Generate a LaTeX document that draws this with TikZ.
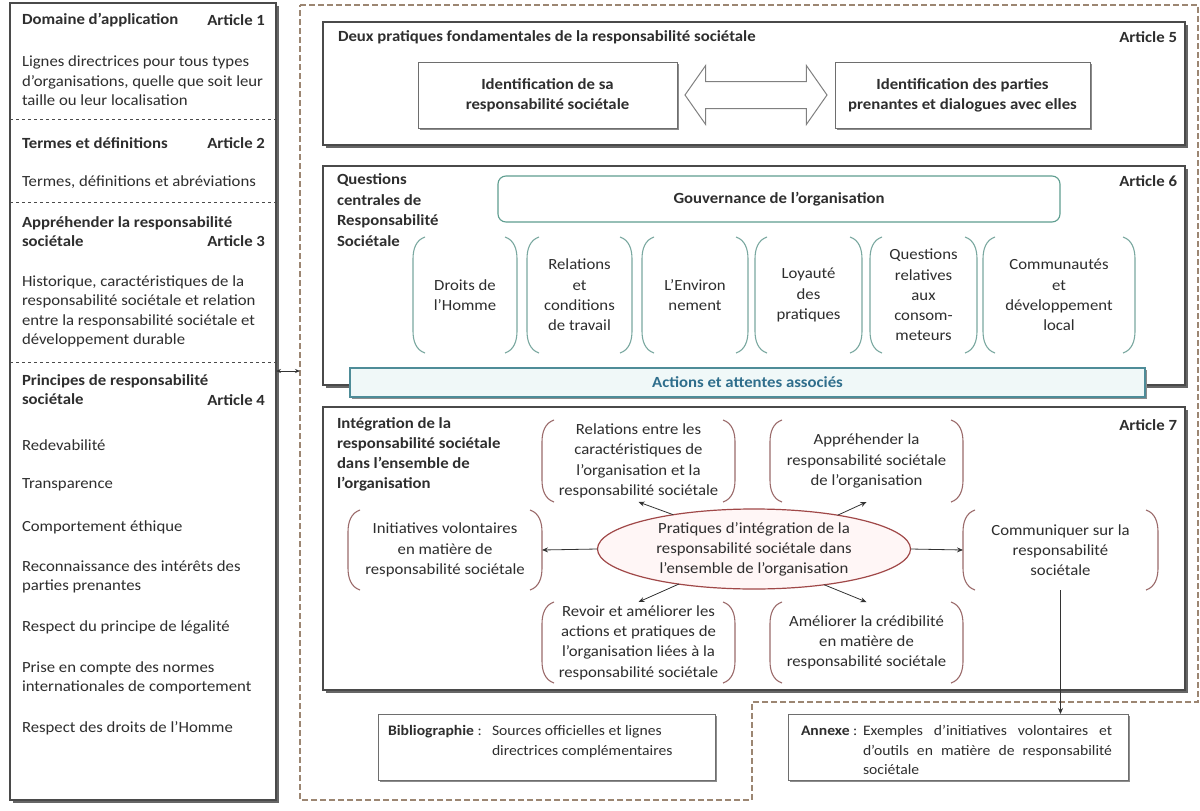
\documentclass[tikz,border=0pt]{standalone}
\usepackage{fontspec}
\setmainfont{Carlito}[FakeStretch=1.08]
\usetikzlibrary{shapes.geometric,shapes.arrows,shadows,calc,arrows.meta}
\definecolor{boxline}{HTML}{4A4A4A}
\definecolor{dashbrown}{HTML}{9C8672}
\definecolor{tealbr}{HTML}{7AA8A0}
\definecolor{tealgov}{HTML}{5F9E90}
\definecolor{tealbar}{HTML}{4E8C98}
\definecolor{tealtext}{HTML}{2F6E8C}
\definecolor{tealfill}{HTML}{F0F8F8}
\definecolor{redbr}{HTML}{9B6B6B}
\definecolor{ellline}{HTML}{A04848}
\definecolor{ellfill}{HTML}{FFF6F6}
\definecolor{txt}{HTML}{2E2E2E}
\newcommand\myfs{\fontsize{15.5}{19.5}\selectfont}
\newcommand\grpfs{\fontsize{15.5}{20.3}\selectfont}
\newcommand\botfs{\fontsize{14.5}{19.8}\selectfont}
\newcommand\parenpair[2]{%
  \draw[#2,line width=1.1pt] ([xshift=12pt]#1.north west) .. controls ([xshift=3pt,yshift=-3pt]#1.north west) and ([yshift=-12pt]#1.north west) .. ([yshift=-22pt]#1.north west) -- ([yshift=22pt]#1.south west) .. controls ([yshift=12pt]#1.south west) and ([xshift=3pt,yshift=3pt]#1.south west) .. ([xshift=12pt]#1.south west);
  \draw[#2,line width=1.1pt] ([xshift=-12pt]#1.north east) .. controls ([xshift=-3pt,yshift=-3pt]#1.north east) and ([yshift=-12pt]#1.north east) .. ([yshift=-22pt]#1.north east) -- ([yshift=22pt]#1.south east) .. controls ([yshift=12pt]#1.south east) and ([xshift=-3pt,yshift=3pt]#1.south east) .. ([xshift=-12pt]#1.south east);
}
\begin{document}
\begin{tikzpicture}[x=1pt,y=-1pt,
  every node/.style={inner sep=0pt,outer sep=0pt,text=txt,font=\myfs},
  leftlab/.style={anchor=west,align=left},
  boldlab/.style={anchor=west,align=left,font=\myfs\bfseries},
  artlab/.style={anchor=east,font=\myfs\bfseries},
  artbox/.style={draw=boxline,line width=1.1pt,fill=white,anchor=north west,drop shadow={shadow xshift=2.5pt,shadow yshift=-2.5pt,fill=black!60,opacity=1}},
  smallbox/.style={draw=boxline!80,line width=0.9pt,fill=white,anchor=north west,drop shadow={shadow xshift=2pt,shadow yshift=-2pt,fill=black!45,opacity=1}},
  grp/.style={align=center,font=\grpfs},
  sepline/.style={dashed,boxline,line width=0.9pt},
  conn/.style={-{Stealth[length=6pt,width=5pt]},line width=0.8pt,black!80},
]
\useasboundingbox (0,0) rectangle (1200,811);
\fill[white] (0,0) rectangle (1200,811);

% ---------- left column ----------
\node[artbox,minimum width=266,minimum height=797] (left) at (10,3) {};
\node[boldlab] (t1) at (22,20) {Domaine d'application};
\node[artlab] (a1) at (265,20) {Article 1};
\node[leftlab] (b1) at (22,81) {Lignes directrices pour tous types\\d'organisations, quelle que soit leur\\taille ou leur localisation};
\draw[sepline] (10,119) -- (276,119);
\node[boldlab] (t2) at (22,143) {Termes et définitions};
\node[artlab] (a2) at (265,143) {Article 2};
\node[leftlab] (b2) at (22,182) {Termes, définitions et abréviations};
\draw[sepline] (10,202) -- (276,202);
\node[boldlab] (t3) at (22,231.5) {Appréhender la responsabilité\\sociétale};
\node[artlab] (a3) at (265,241) {Article 3};
\node[leftlab] (b3) at (22,311.5) {Historique, caractéristiques de la\\responsabilité sociétale et relation\\entre la responsabilité sociétale et\\développement durable};
\draw[sepline] (10,362) -- (276,362);
\node[boldlab] (t4) at (22,389.5) {Principes de responsabilité\\sociétale};
\node[artlab] (a4) at (265,400) {Article 4};
\node[leftlab] (p1) at (22,445) {Redevabilité};
\node[leftlab] (p2) at (22,485) {Transparence};
\node[leftlab] (p3) at (22,527) {Comportement éthique};
\node[leftlab] (p4) at (22,577) {Reconnaissance des intérêts des\\parties prenantes};
\node[leftlab] (p5) at (22,627) {Respect du principe de légalité};
\node[leftlab] (p6) at (22,678) {Prise en compte des normes\\internationales de comportement};
\node[leftlab] (p7) at (22,728) {Respect des droits de l'Homme};

% ---------- outer dashed region ----------
\draw[dashbrown,line width=1.6pt,dash pattern=on 6pt off 3pt] (300,5) -- (1198,5) -- (1198,702) -- (752,702) -- (752,800) -- (300,800) -- cycle;
\coordinate (oe) at (300,371);
\draw[{Stealth[length=5pt,width=4pt]}-{Stealth[length=5pt,width=4pt]},line width=0.8pt,black!80] (left.east |- oe) -- (oe);

% ---------- Article 5 ----------
\node[artbox,minimum width=862,minimum height=123] (a5box) at (323,22) {};
\node[boldlab] (a5t) at (338,37) {Deux pratiques fondamentales de la responsabilité sociétale};
\node[artlab] (a5a) at (1177,37) {Article 5};
\node[smallbox,minimum width=259,minimum height=66,align=center,font=\fontsize{15.5}{20}\selectfont\bfseries] (id1) at (418,62) {Identification de sa\\responsabilité sociétale};
\node[smallbox,minimum width=255,minimum height=66,align=center,font=\fontsize{15.5}{20}\selectfont\bfseries] (id2) at (835,62) {Identification des parties\\prenantes et dialogues avec elles};
\node[double arrow,draw=boxline!70,line width=1pt,fill=white,inner sep=13pt,minimum height=142pt,double arrow head extend=16pt,double arrow tip angle=110] (dbl) at ($(id1.east)!0.5!(id2.west)$) {};

% ---------- Article 6 ----------
\node[artbox,minimum width=862,minimum height=219] (a6box) at (323,166) {};
\node[boldlab,font=\fontsize{15.5}{20.5}\selectfont\bfseries] (a6t) at (337,210) {Questions\\centrales de\\Responsabilité\\Sociétale};
\node[artlab] (a6a) at (1177,181) {Article 6};
\node[draw=tealgov,line width=1.1pt,rounded corners=8pt,fill=white,minimum width=562,minimum height=46,anchor=north west,font=\myfs\bfseries] (gov) at (498,176) {Gouvernance de l'organisation};
\node[grp,minimum width=104,minimum height=116] (q1) at (465,295) {Droits de\\l'Homme};
\node[grp,minimum width=105,minimum height=116] (q2) at (579.5,295) {Relations\\et\\conditions\\de travail};
\node[grp,minimum width=106,minimum height=116] (q3) at (695,295) {L'Environ\\nement};
\node[grp,minimum width=107,minimum height=116] (q4) at (808.5,295) {Loyauté\\des\\pratiques};
\node[grp,minimum width=107,minimum height=116] (q5) at (923.5,295) {Questions\\relatives\\aux\\consom-\\meteurs};
\node[grp,minimum width=152,minimum height=116] (q6) at (1059,295) {Communautés\\et\\développement\\local};
\foreach \n in {q1,q2,q3,q4,q5,q6} {\parenpair{\n}{tealbr}}
\node[draw=tealbar,fill=tealfill,line width=1.2pt,minimum width=795,minimum height=29,anchor=north west,text=tealtext,font=\myfs\bfseries,drop shadow={shadow xshift=2pt,shadow yshift=-2pt,fill=black!45,opacity=1}] (act) at (350,368) {Actions et attentes associés};

% ---------- Article 7 ----------
\node[artbox,minimum width=862,minimum height=283] (a7box) at (323,407) {};
\node[boldlab,font=\fontsize{15.5}{20}\selectfont\bfseries] (a7t) at (337,454) {Intégration de la\\responsabilité sociétale\\dans l'ensemble de\\l'organisation};
\node[artlab] (a7a) at (1177,425) {Article 7};
\node[ellipse,draw=ellline,fill=ellfill,line width=1.2pt,minimum width=313,minimum height=80,align=center,font=\fontsize{15.5}{20}\selectfont] (ell) at (754,549) {Pratiques d'intégration de la\\responsabilité sociétale dans\\l'ensemble de l'organisation};
\node[grp,minimum width=193,minimum height=82] (r1) at (638.5,461) {Relations entre les\\caractéristiques de\\l'organisation et la\\responsabilité sociétale};
\node[grp,minimum width=193,minimum height=82] (r2) at (866.5,461) {Appréhender la\\responsabilité sociétale\\de l'organisation};
\node[grp,minimum width=194,minimum height=80] (r3) at (445,550) {Initiatives volontaires\\en matière de\\responsabilité sociétale};
\node[grp,minimum width=195,minimum height=80] (r4) at (1060.5,550) {Communiquer sur la\\responsabilité\\sociétale};
\node[grp,minimum width=193,minimum height=81] (r5) at (638.5,642.5) {Revoir et améliorer les\\actions et pratiques de\\l'organisation liées à la\\responsabilité sociétale};
\node[grp,minimum width=193,minimum height=81] (r6) at (866.5,642.5) {Améliorer la crédibilité\\en matière de\\responsabilité sociétale};
\foreach \n in {r1,r2,r3,r4,r5,r6} {\parenpair{\n}{redbr}}
\draw[conn] (ell.west) -- (r3.east);
\draw[conn] (ell.east) -- (r4.west);
\draw[conn] (ell.157) -- (r1.south);
\draw[conn] (ell.22) -- (r2.south);
\draw[conn] (ell.205) -- (r5.north);
\draw[conn] (ell.333) -- (r6.north);

% ---------- bottom ----------
\node[smallbox,minimum width=337,minimum height=66] (bib) at (378,714) {};
\node[anchor=north west,font=\botfs] (bibt) at (388,721.5) {\begin{tabular}{@{}p{104pt}@{}p{215pt}@{}}\textbf{Bibliographie} : & Sources officielles et lignes\newline directrices complémentaires\end{tabular}};
\node[smallbox,minimum width=340,minimum height=66] (annexe) at (788,714) {};
\node[anchor=north west,font=\botfs] (annt) at (801,721.5) {\begin{tabular}{@{}p{62pt}@{}p{249pt}@{}}\textbf{Annexe} : & Exemples d'initiatives volontaires et\linebreak d'outils en matière de responsabilité\linebreak sociétale\end{tabular}};
\draw[conn] (r4.south) -- (r4.south |- annexe.north);
\end{tikzpicture}
\end{document}
